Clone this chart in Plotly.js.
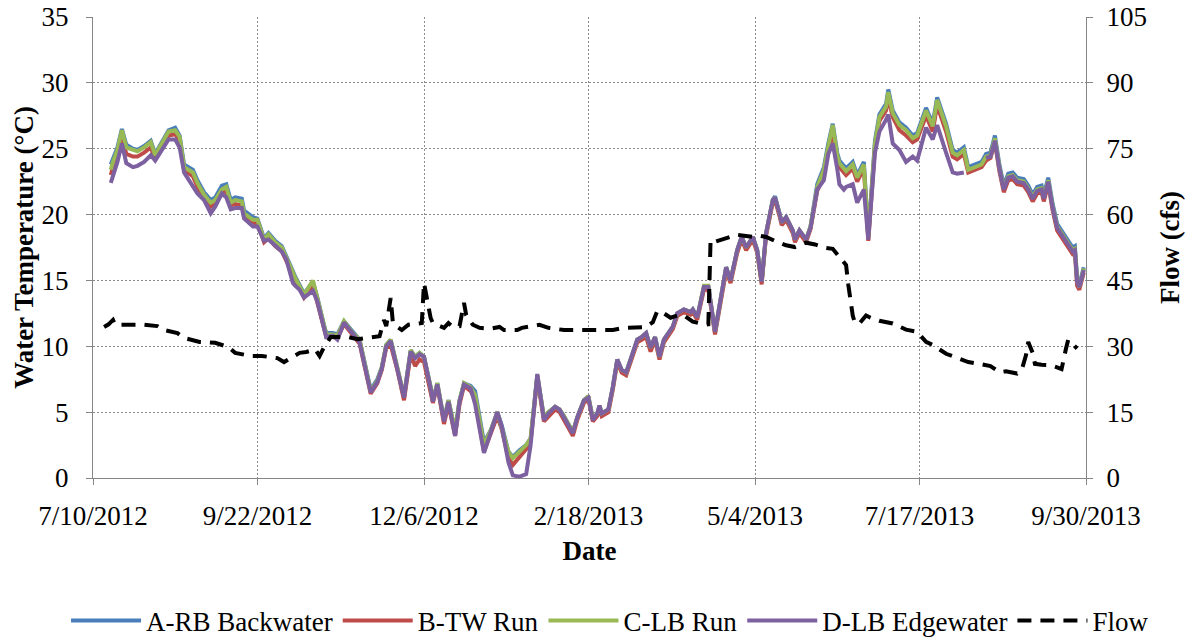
<!DOCTYPE html>
<html>
<head>
<meta charset="utf-8">
<script src="https://cdn.plot.ly/plotly-3.0.1.min.js"></script>
<style>
  html, body { margin:0; padding:0; background:#fff; }
  #chart { width:1188px; height:637px; }
  svg text { font-family: 'Liberation Serif', 'Times New Roman', serif !important; }
</style>
</head>
<body>
<div id="chart"></div>
<script>
// ---- Data ----
const tempDates = [
 '2012-07-18','2012-07-19','2012-07-21','2012-07-23','2012-07-25','2012-07-28','2012-07-30','2012-08-02','2012-08-05','2012-08-07',
 '2012-08-09','2012-08-13','2012-08-16','2012-08-18','2012-08-20','2012-08-24','2012-08-26','2012-08-29','2012-09-01','2012-09-03',
 '2012-09-06','2012-09-08','2012-09-10','2012-09-12','2012-09-15','2012-09-16','2012-09-20','2012-09-22','2012-09-23','2012-09-25',
 '2012-09-27','2012-09-30','2012-10-03','2012-10-05','2012-10-08','2012-10-09','2012-10-11','2012-10-13','2012-10-17','2012-10-19',
 '2012-10-22','2012-10-23','2012-10-26','2012-10-28','2012-10-31','2012-11-04','2012-11-07','2012-11-12','2012-11-15','2012-11-17',
 '2012-11-19','2012-11-21','2012-11-24','2012-11-27','2012-11-30','2012-12-02','2012-12-04','2012-12-06','2012-12-09','2012-12-10',
 '2012-12-12','2012-12-15','2012-12-17','2012-12-20','2012-12-22','2012-12-24','2012-12-27','2012-12-29','2013-01-02','2013-01-05',
 '2013-01-08','2013-01-10','2013-01-13','2013-01-15','2013-01-18','2013-01-21','2013-01-23','2013-01-26','2013-01-29','2013-01-31',
 '2013-02-03','2013-02-05','2013-02-07','2013-02-11','2013-02-13','2013-02-16','2013-02-18','2013-02-20','2013-02-22','2013-02-23',
 '2013-02-24','2013-02-27','2013-03-01','2013-03-03','2013-03-05','2013-03-07','2013-03-10','2013-03-12','2013-03-14','2013-03-16',
 '2013-03-18','2013-03-20','2013-03-22','2013-03-24','2013-03-28','2013-03-30','2013-04-02','2013-04-05','2013-04-06','2013-04-08',
 '2013-04-11','2013-04-13','2013-04-16','2013-04-18','2013-04-21','2013-04-23','2013-04-26','2013-04-28','2013-04-30','2013-05-03',
 '2013-05-05','2013-05-07','2013-05-09','2013-05-12','2013-05-13','2013-05-15','2013-05-16','2013-05-18','2013-05-21','2013-05-22',
 '2013-05-24','2013-05-27','2013-05-29','2013-06-01','2013-06-04','2013-06-06','2013-06-08','2013-06-10','2013-06-11','2013-06-13',
 '2013-06-14','2013-06-17','2013-06-19','2013-06-22','2013-06-24','2013-06-27','2013-06-29','2013-07-02','2013-07-03','2013-07-05',
 '2013-07-08','2013-07-11','2013-07-14','2013-07-16','2013-07-20','2013-07-23','2013-07-25','2013-07-29','2013-08-01','2013-08-03',
 '2013-08-06','2013-08-08','2013-08-11','2013-08-14','2013-08-16','2013-08-18','2013-08-20','2013-08-22','2013-08-24','2013-08-26',
 '2013-08-28','2013-08-30','2013-09-02','2013-09-04','2013-09-06','2013-09-08','2013-09-10','2013-09-11','2013-09-13','2013-09-15',
 '2013-09-17','2013-09-20','2013-09-22','2013-09-24','2013-09-25','2013-09-26','2013-09-27','2013-09-29'
];

const aRbBackwater = [
 23.8,24.3,25.1,26.5,25.3,25.0,24.9,25.2,25.6,24.6,
 25.2,26.4,26.6,26.0,23.8,23.4,22.6,21.7,21.1,21.3,
 22.2,22.3,21.1,21.3,21.2,20.3,19.8,19.7,19.2,18.2,
 18.6,18.0,17.6,16.9,15.7,15.3,14.7,14.0,14.9,13.7,
 11.6,11.0,11.0,10.9,11.9,11.1,10.5,6.7,7.5,8.4,
 10.1,10.5,8.4,6.2,9.7,9.2,9.5,9.2,6.9,5.9,
 7.2,4.4,5.9,3.6,5.9,7.2,7.0,6.6,2.7,3.6,
 5.0,4.0,2.0,1.6,2.1,2.5,3.0,7.8,4.6,5.0,
 5.4,5.2,4.7,3.5,4.6,5.9,6.2,4.5,4.9,5.5,
 4.9,5.2,6.9,9.0,8.2,8.0,9.5,10.5,10.7,11.0,
 9.9,10.7,9.2,10.5,11.5,12.5,12.8,12.6,12.8,12.2,
 14.5,14.5,11.1,13.0,16.0,15.0,17.3,18.3,17.5,18.3,
 17.3,14.9,18.6,21.1,21.4,20.1,19.4,19.8,18.8,18.1,
 18.8,18.1,19.1,22.3,23.6,25.4,26.9,24.7,24.1,23.7,
 23.5,24.0,23.0,24.0,18.4,25.6,27.6,28.4,29.5,27.9,
 27.0,26.6,26.0,26.2,28.1,26.9,28.9,26.9,24.9,24.7,
 25.1,23.6,23.8,24.0,24.6,24.7,26.0,23.8,22.2,23.1,
 23.2,22.8,22.7,22.2,21.5,22.1,22.2,21.5,22.8,20.8,
 19.3,18.5,18.0,17.5,17.6,15.2,14.7,16.0
];

const bTwRun = [
 23.0,23.6,24.5,25.9,24.6,24.4,24.4,24.7,25.1,24.2,
 24.8,26.0,26.1,25.6,23.4,22.9,22.1,21.2,20.6,20.8,
 21.7,21.8,20.7,20.8,20.7,19.9,19.4,19.3,18.9,17.9,
 18.2,17.6,17.2,16.5,15.3,15.0,14.4,13.7,14.6,13.3,
 11.3,10.7,10.7,10.6,11.7,10.8,10.2,6.4,7.2,8.2,
 9.9,10.1,8.2,5.9,9.4,8.5,9.0,8.8,6.6,5.7,
 7.0,4.1,5.6,3.2,5.6,7.0,6.6,6.0,2.0,3.3,
 4.7,3.7,1.5,1.0,1.6,2.2,2.8,7.6,4.3,4.7,
 5.2,5.0,4.4,3.2,4.4,5.7,6.0,4.3,4.7,5.3,
 4.7,5.0,6.7,8.8,8.0,7.8,9.3,10.3,10.5,10.7,
 9.6,10.5,9.0,10.3,11.3,12.3,12.6,12.4,12.6,12.0,
 14.3,14.3,10.9,12.8,15.7,14.8,17.1,18.1,17.3,18.1,
 17.1,14.7,18.4,20.9,21.1,19.9,19.2,19.6,18.6,17.9,
 18.6,17.9,18.9,21.8,23.0,24.8,26.3,24.2,23.6,23.2,
 23.0,23.5,22.5,23.5,18.0,25.1,27.1,27.9,28.9,27.4,
 26.4,26.0,25.5,25.7,27.5,26.3,28.3,26.3,24.4,24.2,
 24.6,23.2,23.4,23.6,24.1,24.3,25.5,23.3,21.7,22.6,
 22.7,22.3,22.2,21.7,21.0,21.6,21.7,21.0,22.3,20.3,
 18.8,18.0,17.5,17.0,17.1,14.6,14.3,15.6
];

const cLbRun = [
 23.4,24.0,24.9,26.4,25.1,24.9,24.8,25.1,25.5,24.5,
 25.1,26.3,26.4,25.9,23.6,23.2,22.4,21.5,20.9,21.1,
 21.9,22.1,20.9,21.1,21.0,20.1,19.6,19.6,19.1,18.1,
 18.5,17.9,17.5,16.8,15.6,15.2,14.6,13.9,15.0,13.6,
 11.5,10.9,10.9,10.8,11.9,11.0,10.5,6.6,7.4,8.4,
 10.1,10.5,8.4,6.2,9.7,9.2,9.5,9.2,6.9,5.9,
 7.2,4.4,5.9,3.6,5.9,7.2,6.9,6.3,2.5,3.6,
 5.0,3.9,2.0,1.5,2.0,2.5,3.0,7.8,4.6,5.0,
 5.4,5.2,4.7,3.5,4.6,5.9,6.2,4.5,4.9,5.5,
 4.9,5.2,6.9,9.0,8.2,8.0,9.5,10.5,10.7,11.0,
 9.9,10.7,9.2,10.5,11.5,12.5,12.8,12.6,12.8,12.2,
 14.6,14.6,11.1,13.0,16.0,15.0,17.3,18.3,17.5,18.3,
 17.3,14.9,18.6,21.1,21.3,20.1,19.4,19.8,18.8,18.1,
 18.8,18.1,19.1,22.1,23.4,25.2,26.8,24.5,23.9,23.5,
 23.3,23.8,22.8,23.8,18.3,25.4,27.4,28.2,29.3,27.7,
 26.8,26.4,25.8,26.0,27.9,26.7,28.7,26.7,24.7,24.5,
 24.9,23.4,23.6,23.8,24.4,24.5,25.8,23.6,22.0,22.9,
 23.0,22.6,22.5,22.0,21.3,21.9,22.0,21.3,22.6,20.6,
 19.1,18.3,17.8,17.3,17.4,15.0,14.5,15.9
];

const dLbEdgewater = [
 22.4,22.9,24.0,25.4,23.9,23.6,23.7,24.0,24.5,24.1,
 24.6,25.7,25.7,25.1,23.2,22.2,21.6,21.1,20.1,20.6,
 21.6,21.3,20.4,20.5,20.5,19.7,19.1,19.1,18.7,18.0,
 18.1,17.6,17.2,16.6,14.8,14.6,14.3,13.7,14.2,13.4,
 11.5,10.7,10.8,10.5,11.8,10.9,10.3,6.5,7.3,8.3,
 10.0,10.4,8.3,6.1,9.6,9.1,9.4,9.2,6.8,5.8,
 7.1,4.3,5.8,3.2,5.8,7.1,6.8,5.6,1.9,3.5,
 5.0,3.9,1.2,0.2,0.1,0.3,2.5,7.9,4.4,4.9,
 5.4,5.2,4.6,3.4,4.6,5.9,6.1,4.4,4.9,5.5,
 4.9,5.2,6.9,9.0,8.2,8.0,9.5,10.5,10.7,11.0,
 9.9,10.7,9.2,10.5,11.5,12.5,12.8,12.6,12.8,12.2,
 14.5,14.5,11.1,13.0,16.0,15.0,17.3,18.3,17.5,18.3,
 17.3,14.9,18.6,21.1,21.3,20.1,19.4,19.8,18.8,18.1,
 18.8,18.1,19.0,21.9,22.6,24.6,25.4,23.5,22.3,21.9,
 22.1,22.3,20.9,21.9,18.1,24.7,26.3,27.2,27.6,25.4,
 24.9,24.0,24.4,24.1,26.6,25.7,26.8,24.7,23.2,23.1,
 23.2,null,null,null,24.3,24.4,25.6,23.5,21.9,22.8,
 22.9,22.5,22.4,21.9,21.2,21.8,21.9,21.2,22.5,20.5,
 19.0,18.2,17.7,17.2,17.3,14.9,14.5,15.8
];

const flowDates = [
 '2012-07-15','2012-07-17','2012-07-19','2012-07-20','2012-07-27','2012-08-02','2012-08-08','2012-08-11','2012-08-17','2012-08-20',
 '2012-08-27','2012-09-03','2012-09-09','2012-09-12','2012-09-19','2012-09-24','2012-10-01','2012-10-04','2012-10-07','2012-10-11',
 '2012-10-14','2012-10-18','2012-10-20','2012-10-22','2012-10-25','2012-10-29','2012-11-02','2012-11-06','2012-11-13','2012-11-16',
 '2012-11-18','2012-11-19','2012-11-21','2012-11-22','2012-11-24','2012-11-26','2012-11-29','2012-12-05','2012-12-06','2012-12-09',
 '2012-12-10','2012-12-15','2012-12-17','2012-12-19','2012-12-22','2012-12-24','2012-12-25','2012-12-28','2012-12-31','2013-01-05',
 '2013-01-09','2013-01-11','2013-01-17','2013-01-19','2013-01-27','2013-01-31','2013-02-07','2013-02-13','2013-02-19','2013-02-23',
 '2013-03-01','2013-03-06','2013-03-10','2013-03-16','2013-03-19','2013-03-21','2013-03-24','2013-03-27','2013-03-30','2013-04-02',
 '2013-04-06','2013-04-08','2013-04-12','2013-04-13','2013-04-14','2013-04-16','2013-04-20','2013-04-26','2013-04-29','2013-05-03',
 '2013-05-06','2013-05-09','2013-05-13','2013-05-18','2013-05-22','2013-05-27','2013-05-31','2013-06-05','2013-06-08','2013-06-11',
 '2013-06-14','2013-06-15','2013-06-17','2013-06-18','2013-06-20','2013-06-23','2013-06-25','2013-06-29','2013-07-05','2013-07-11',
 '2013-07-16','2013-07-20','2013-07-23','2013-07-29','2013-08-02','2013-08-08','2013-08-12','2013-08-18','2013-08-22','2013-08-25',
 '2013-08-30','2013-09-01','2013-09-03','2013-09-04','2013-09-06','2013-09-07','2013-09-10','2013-09-14','2013-09-17','2013-09-19',
 '2013-09-21','2013-09-22','2013-09-24','2013-09-26'
];

const flowCfs = [
 34.4,35.0,36.0,34.9,34.9,34.9,34.6,33.7,33.0,31.9,
 31.0,30.8,29.8,28.5,27.8,27.8,27.3,26.4,27.3,28.5,
 28.7,29.3,27.8,29.8,32.1,32.1,32.1,31.6,32.1,32.3,
 36.0,34.6,41.0,35.3,34.4,33.7,34.9,35.3,44.4,36.4,
 35.3,34.2,35.3,34.4,34.6,39.9,37.1,34.9,34.2,34.0,
 34.4,33.7,33.7,34.2,34.9,34.2,33.7,33.7,33.6,33.7,
 33.7,34.2,34.2,34.4,35.5,38.0,37.5,36.5,37.0,37.0,
 35.6,35.3,34.9,35.0,54.2,53.8,54.5,55.4,55.2,54.9,
 55.2,54.9,54.0,53.0,52.6,53.6,53.2,52.4,52.2,50.5,
 48.5,44.0,37.0,35.3,35.2,37.0,36.5,35.8,35.2,33.8,
 33.3,31.0,30.3,28.3,27.5,26.4,26.1,25.5,24.1,24.3,
 23.8,24.5,28.0,31.0,28.5,26.0,25.8,25.7,25.2,24.8,
 29.5,31.5,30.5,29.5
];

const xTickVals = ['2012-07-10','2012-09-22','2012-12-06','2013-02-18','2013-05-04','2013-07-17','2013-09-30'];
const xTickText = ['7/10/2012','9/22/2012','12/6/2012','2/18/2013','5/4/2013','7/17/2013','9/30/2013'];

const seriesNames = ['A-RB Backwater','B-TW Run','C-LB Run','D-LB Edgewater','Flow'];
const seriesColors = ['#4A7EBB','#BE4B48','#98B954','#7D60A0','#000000'];

// ---- Traces ----
const tempSeries = [aRbBackwater, bTwRun, cLbRun, dLbEdgewater];
const traces = tempSeries.map((vals, i) => ({
  type:'scatter', mode:'lines', name:seriesNames[i],
  x:tempDates, y:vals, xaxis:'x', yaxis:'y',
  line:{color:seriesColors[i], width:4}, connectgaps:false
}));
traces.push({
  type:'scatter', mode:'lines', name:seriesNames[4],
  x:flowDates, y:flowCfs, xaxis:'x', yaxis:'y2',
  line:{color:seriesColors[4], width:4, dash:'14px,9px'}
});

const FONT = 'Liberation Serif, serif';
const AX = '#868686';
const GRID = '#8a8a8a';

const layout = {
  width:1188, height:637,
  margin:{l:93, r:102, t:17, b:159, pad:0, autoexpand:false},
  paper_bgcolor:'#ffffff', plot_bgcolor:'#ffffff',
  font:{family:FONT, size:27, color:'#000'},
  showlegend:true,
  legend:{orientation:'h', x:1.0685, xanchor:'right', y:-0.31, yanchor:'middle',
          font:{family:FONT, size:27, color:'#000'}, itemwidth:70, traceorder:'normal',
          bgcolor:'rgba(0,0,0,0)'},
  xaxis:{
    type:'date', range:['2012-07-10','2013-09-30'],
    tickmode:'array', tickvals:xTickVals, ticktext:xTickText,
    ticks:'outside', ticklen:6, tickcolor:AX, tickwidth:1,
    showline:true, linecolor:AX, linewidth:1,
    showgrid:true, gridcolor:GRID, gridwidth:1, griddash:'2px,2px',
    zeroline:false, ticklabelstandoff:8,
    tickfont:{family:FONT, size:27, color:'#000'},
    title:{text:'<b>Date</b>', font:{family:FONT, size:27, color:'#000'}, standoff:10}
  },
  yaxis:{
    range:[0,35], tick0:0, dtick:5,
    ticks:'outside', ticklen:6, tickcolor:AX, tickwidth:1,
    showline:true, linecolor:AX, linewidth:1,
    showgrid:true, gridcolor:GRID, gridwidth:1, griddash:'2px,2px',
    zeroline:false, ticklabelstandoff:12,
    tickfont:{family:FONT, size:27, color:'#000'},
    title:{text:'<b>Water Temperature (°C)</b>', font:{family:FONT, size:27, color:'#000'}, standoff:0}
  },
  yaxis2:{
    overlaying:'y', side:'right', anchor:'x',
    range:[0,105], tick0:0, dtick:15,
    ticks:'outside', ticklen:6, tickcolor:AX, tickwidth:1,
    showline:true, linecolor:AX, linewidth:1,
    showgrid:false, zeroline:false, ticklabelstandoff:8,
    tickfont:{family:FONT, size:27, color:'#000'},
    title:{text:'<b>Flow (cfs)</b>', font:{family:FONT, size:27, color:'#000'}, standoff:14}
  }
};

Plotly.newPlot('chart', traces, layout, {staticPlot:true, displayModeBar:false});
</script>
</body>
</html>
